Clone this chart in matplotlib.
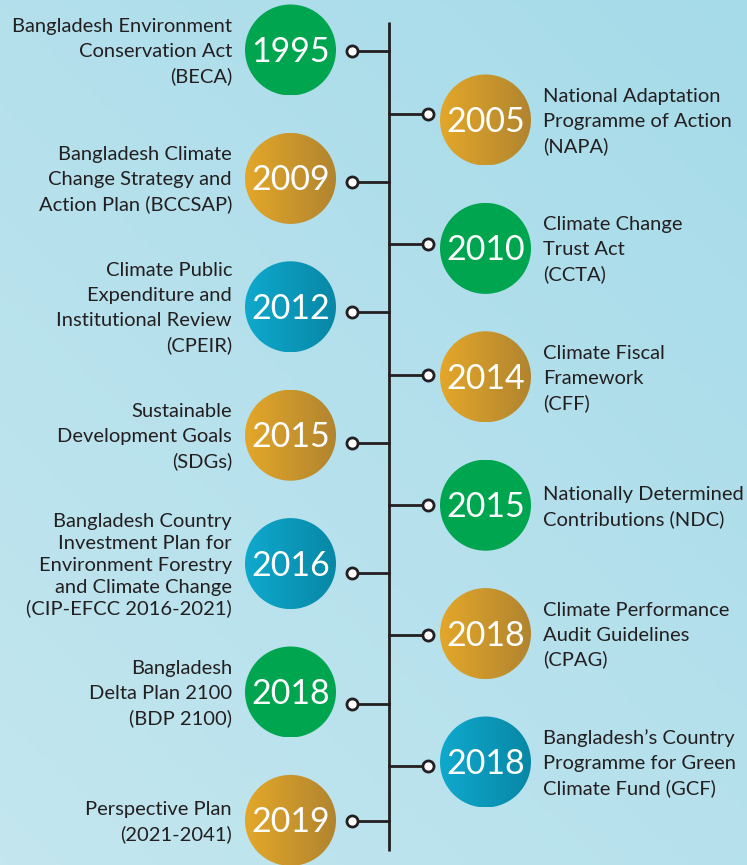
import matplotlib
matplotlib.use("Agg")
import matplotlib.pyplot as plt
import numpy as np
from matplotlib.patches import Circle
from matplotlib.colors import LinearSegmentedColormap

# ------------------------------
# Données de la frise chronologique
# ------------------------------
left_years = ["1995", "2009", "2012", "2015", "2016", "2018", "2019"]
left_labels = [
    "Bangladesh Environment\nConservation Act\n(BECA)",
    "Bangladesh Climate\nChange Strategy and\nAction Plan (BCCSAP)",
    "Climate Public\nExpenditure and\nInstitutional Review\n(CPEIR)",
    "Sustainable\nDevelopment Goals\n(SDGs)",
    "Bangladesh Country\nInvestment Plan for\nEnvironment Forestry\nand Climate Change\n(CIP-EFCC 2016-2021)",
    "Bangladesh\nDelta Plan 2100\n(BDP 2100)",
    "Perspective Plan\n(2021-2041)",
]
left_kinds = ["green", "gold", "blue", "gold", "blue", "green", "gold"]

right_years = ["2005", "2010", "2014", "2015", "2018", "2018"]
right_labels = [
    "National Adaptation\nProgramme of Action\n(NAPA)",
    "Climate Change\nTrust Act\n(CCTA)",
    "Climate Fiscal\nFramework\n(CFF)",
    "Nationally Determined\nContributions (NDC)",
    "Climate Performance\nAudit Guidelines\n(CPAG)",
    "Bangladesh\u2019s Country\nProgramme for Green\nClimate Fund (GCF)",
]
right_kinds = ["gold", "green", "gold", "green", "gold", "blue"]

# ------------------------------
# Mise en page (pixels)
# ------------------------------
W, H = 747, 865
axis_x = 389
axis_top, axis_bottom = 22, 851
radius = 45.5
step = 128.4
dark = "#231f20"

gradients = {
    "gold": ("#e3a729", "#b1842f"),
    "blue": ("#0fa9cd", "#0887a6"),
    "green": ("#00a54f", "#00a54f"),
}

fig = plt.figure(figsize=(W / 100, H / 100), dpi=100)
ax = fig.add_axes([0, 0, 1, 1])
ax.set_xlim(0, W)
ax.set_ylim(H, 0)
ax.axis("off")

# fond dégradé
yy, xx = np.mgrid[0:1:200j, 0:1:200j]
t = np.clip(0.55 * yy + 0.45 * (1 - xx), 0, 1)
bg = LinearSegmentedColormap.from_list("bg", ["#a6dbe9", "#c3e6ef"])
ax.imshow(t, cmap=bg, extent=(0, W, H, 0), aspect="auto", zorder=0)

ax.plot([axis_x, axis_x], [axis_top, axis_bottom], color=dark, lw=2, zorder=2,
        solid_capstyle="butt")


def draw_circle(cx, cy, kind, year):
    c1, c2 = gradients[kind]
    cmap = LinearSegmentedColormap.from_list(kind, [c1, c2])
    grad = np.tile(np.linspace(0, 1, 100), (100, 1))
    im = ax.imshow(grad, cmap=cmap, extent=(cx - radius, cx + radius, cy + radius, cy - radius),
                   aspect="auto", zorder=3)
    clip = Circle((cx, cy), radius, transform=ax.transData, facecolor="none", edgecolor="none")
    ax.add_patch(clip)
    im.set_clip_path(clip)
    ax.text(cx, cy + 2, year, color="white", fontsize=24.5, family="Lato",
            ha="center", va="center", zorder=4)


def draw_connector(x_dot, cy):
    ax.plot([x_dot, axis_x], [cy, cy], color=dark, lw=2, zorder=2)
    ax.plot(x_dot, cy, "o", ms=8, mfc="white", mec=dark, mew=2, zorder=5)


def draw_label(x, cy, label, ha, spacing):
    # une ligne à la fois pour garder un interligne régulier
    lines = label.split("\n")
    n = len(lines)
    for k, line in enumerate(lines):
        y = cy + (k - (n - 1) / 2) * spacing + 7
        ax.text(x, y, line, color=dark, fontsize=14.5, family="Lato",
                ha=ha, va="baseline", zorder=4)


# côté gauche
for i, (year, label, kind) in enumerate(zip(left_years, left_labels, left_kinds)):
    cy = 50 + i * step
    draw_circle(290.5, cy, kind, year)
    dot_y = min(51 + i * 130.5, cy + 1 if i == len(left_years) - 1 else 1e9)
    draw_connector(352, dot_y)
    spacing = 22 if label.count("\n") >= 4 else 25
    draw_label(232, cy, label, "right", spacing)

# côté droit
for i, (year, label, kind) in enumerate(zip(right_years, right_labels, right_kinds)):
    cy = 120 + i * step
    draw_circle(485.5, cy, kind, year)
    draw_connector(428, 114 + i * 130.3)
    draw_label(543, cy, label, "left", 25)

fig.savefig("out.png", dpi=100)
